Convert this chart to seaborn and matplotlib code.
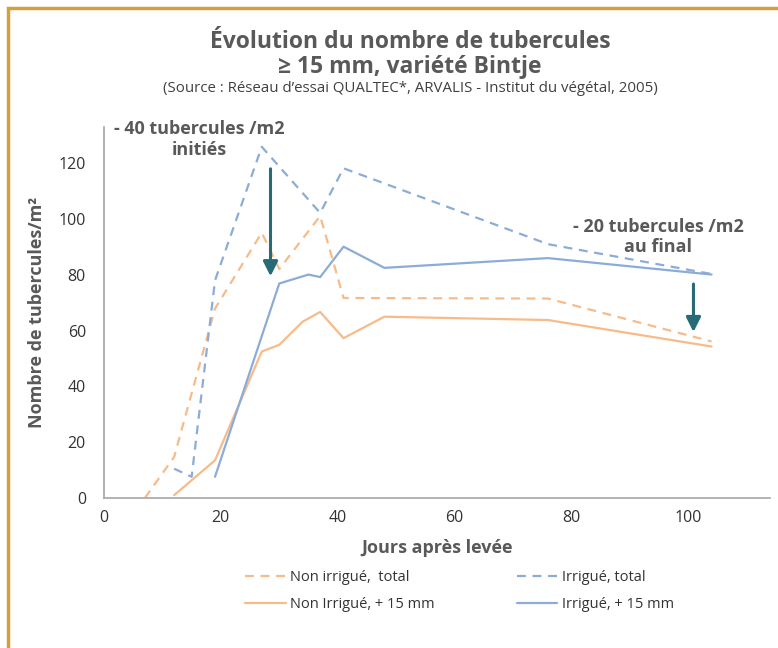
import matplotlib
matplotlib.use("Agg")
import matplotlib.pyplot as plt
import matplotlib.patches as mpatches
import pandas as pd
import seaborn as sns

# Données (jours après levée, tubercules/m2)
jours_ni_total = [7, 12, 19, 27, 30, 37, 41, 76, 104]
ni_total = [0, 14.7, 67.9, 95.1, 82.1, 101.1, 71.7, 71.5, 56.1]

jours_i_total = [12, 15, 19, 27, 30, 37, 41, 76, 104]
i_total = [10.5, 7.6, 78, 125.9, 118.8, 102.2, 118.2, 91.0, 80.3]

jours_ni_15 = [12, 19, 27, 30, 34, 37, 41, 48, 76, 104]
ni_15 = [1.0, 13.5, 52.5, 54.9, 63.2, 66.7, 57.3, 65.0, 63.8, 54.3]

jours_i_15 = [19, 30, 35, 37, 41, 48, 76, 104]
i_15 = [7.6, 76.9, 80.1, 79.2, 90.1, 82.5, 86.0, 80.1]

series = ["Non irrigué,  total", "Non Irrigué, + 15 mm", "Irrigué, total", "Irrigué, + 15 mm"]

sns.set_style("white")
plt.rcParams["font.family"] = ["Open Sans", "DejaVu Sans"]

orange = "#F7BB8A"
bleu = "#8CACD8"
sarcelle = "#276B76"
gris = "#595959"

df = pd.concat([
    pd.DataFrame({"jour": jours_ni_total, "val": ni_total, "serie": series[0]}),
    pd.DataFrame({"jour": jours_ni_15, "val": ni_15, "serie": series[1]}),
    pd.DataFrame({"jour": jours_i_total, "val": i_total, "serie": series[2]}),
    pd.DataFrame({"jour": jours_i_15, "val": i_15, "serie": series[3]}),
])

fig = plt.figure(figsize=(7.78, 6.48), dpi=100)
ax = fig.add_axes([0.1337, 0.2315, 0.856, 0.5725])

palette = {series[0]: orange, series[1]: orange, series[2]: bleu, series[3]: bleu}
dashes = {series[0]: (4, 3), series[1]: "", series[2]: (4, 3), series[3]: ""}
sns.lineplot(data=df, x="jour", y="val", hue="serie", style="serie",
             hue_order=series, style_order=series, palette=palette, dashes=dashes,
             linewidth=1.6, sort=False, estimator=None, ax=ax)

ax.set_xlim(0, 114)
ax.set_ylim(0, 133)
ax.set_xticks([0, 20, 40, 60, 80, 100])
ax.set_yticks([0, 20, 40, 60, 80, 100, 120])
ax.tick_params(labelsize=11.5, colors="#333333", length=0)
ax.tick_params(axis="y", pad=13)
ax.tick_params(axis="x", pad=9)
for s in ["top", "right"]:
    ax.spines[s].set_visible(False)
for s in ["left", "bottom"]:
    ax.spines[s].set_color("#A6A6A6")
    ax.spines[s].set_linewidth(1.2)

ax.set_xlabel("Jours après levée", fontsize=13, fontweight="bold", color=gris, labelpad=9)
ax.set_ylabel("Nombre de tubercules/m²", fontsize=13, fontweight="bold", color=gris, labelpad=9)

# Flèches et annotations
ax.annotate("", xy=(28.5, 78.5), xytext=(28.5, 119),
            arrowprops=dict(arrowstyle="-|>", color=sarcelle, lw=2.2, mutation_scale=22))
ax.annotate("", xy=(100.9, 58.5), xytext=(100.9, 77.7),
            arrowprops=dict(arrowstyle="-|>", color=sarcelle, lw=2.2, mutation_scale=22))
ax.text(16.3, 128.4, "- 40 tubercules /m2\ninitiés", ha="center", va="center",
        fontsize=13, fontweight="bold", color=gris, linespacing=1.2, clip_on=False)
ax.text(94.9, 93.6, "- 20 tubercules /m2\nau final", ha="center", va="center",
        fontsize=13, fontweight="bold", color=gris, linespacing=1.2)

handles, labels = ax.get_legend_handles_labels()
ax.legend(handles, labels, ncol=2, loc="upper left", bbox_to_anchor=(0.192, -0.159),
          frameon=False, fontsize=10.5, handlelength=2.8, handletextpad=0.3,
          columnspacing=5.6, labelspacing=0.85, labelcolor="#333333")

# Titre
fig.text(0.527, 0.935, "Évolution du nombre de tubercules", ha="center", va="center",
         fontsize=16.5, fontweight="bold", color=gris)
fig.text(0.527, 0.897, "≥ 15 mm, variété Bintje", ha="center", va="center",
         fontsize=16.5, fontweight="bold", color=gris)
fig.text(0.527, 0.863, "(Source : Réseau d’essai QUALTEC*, ARVALIS - Institut du végétal, 2005)",
         ha="center", va="center", fontsize=10.8, color="#404040")

# Cadre doré
fig.patches.append(mpatches.Rectangle((8 / 778, -0.1), 1.2, 1.1 - 8 / 648, transform=fig.transFigure,
                                      fill=False, edgecolor="#D4A03C", linewidth=2.5))

fig.savefig("out.png", dpi=100)
